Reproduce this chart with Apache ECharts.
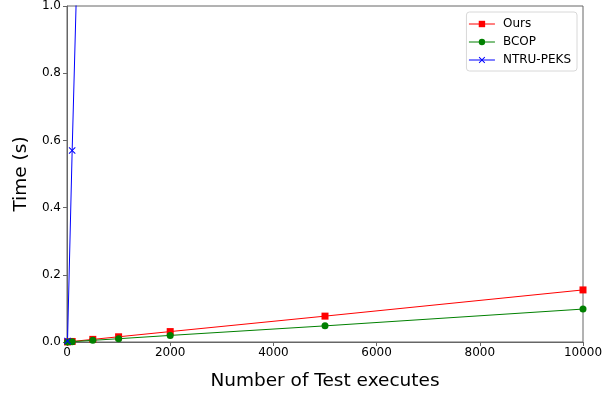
<!DOCTYPE html>
<html><head><meta charset="utf-8">
<script src="https://cdn.jsdelivr.net/npm/echarts@6/dist/echarts.min.js"></script>
<style>html,body{margin:0;padding:0;background:#fff}#c{width:609px;height:394px}</style>
</head><body><div id="c"></div>
<script>
const xs = [10, 100, 500, 1000, 2000, 5000, 10000];
const ours = [0.0002, 0.0016, 0.0078, 0.0155, 0.031, 0.077, 0.155];
const bcop = [0.0001, 0.001, 0.005, 0.0098, 0.0196, 0.048, 0.098];
const ntru = [0.003, 0.57, 2.85, 5.7, 11.4, 28.5, 57];
const seriesNames = ['Ours', 'BCOP', 'NTRU-PEKS'];
const xTicks = [0, 2000, 4000, 6000, 8000, 10000];
const yTicks = [0.0, 0.2, 0.4, 0.6, 0.8, 1.0];

const font = 'DejaVu Sans';
const xMark = 'path://M1,0L5,4L9,0L10,1L6,5L10,9L9,10L5,6L1,10L0,9L4,5L0,1Z';
const pair = arr => xs.map((x, i) => [x, arr[i]]);
const chart = echarts.init(document.getElementById('c'), null, {renderer: 'canvas'});
chart.setOption({
  animation: false,
  grid: {left: 67, right: 26, top: 6, bottom: 52, show: true, borderColor: '#666', borderWidth: 1,
         containLabel: false, outerBoundsMode: 'none'},
  legend: {
    orient: 'vertical', right: 32, top: 12,
    data: seriesNames,
    backgroundColor: '#fff', borderColor: '#d8d8d8', borderWidth: 1, borderRadius: 3,
    padding: [5, 6, 4, 2], itemWidth: 26, itemHeight: 8, itemGap: 4,
    lineStyle: {width: 1},
    textStyle: {fontFamily: font, fontSize: 12, color: '#000', padding: [0, 0, 0, 3], lineHeight: 14}
  },
  xAxis: {
    type: 'value', min: xTicks[0], max: xTicks[xTicks.length - 1], interval: 2000,
    name: 'Number of Test executes', nameLocation: 'middle', nameGap: 30,
    nameTextStyle: {fontFamily: font, fontSize: 18.5, color: '#000'},
    axisLine: {show: true, lineStyle: {color: '#666', width: 1}},
    axisTick: {show: true, length: 4, lineStyle: {color: '#666'}},
    axisLabel: {fontFamily: font, fontSize: 12, color: '#000', margin: 5, formatter: v => String(v)},
    splitLine: {show: false}
  },
  yAxis: {
    type: 'value', min: yTicks[0], max: yTicks[yTicks.length - 1], interval: 0.2,
    name: 'Time (s)', nameLocation: 'middle', nameGap: 35,
    nameTextStyle: {fontFamily: font, fontSize: 18.5, color: '#000'},
    axisLine: {show: true, lineStyle: {color: '#666', width: 1}},
    axisTick: {show: true, length: 4, lineStyle: {color: '#666'}},
    axisLabel: {fontFamily: font, fontSize: 12, color: '#000', margin: 6, formatter: v => v.toFixed(1)},
    splitLine: {show: false}
  },
  series: [
    {name: seriesNames[0], type: 'line', data: pair(ours), color: '#ff0000',
     symbol: 'rect', symbolSize: 7, showAllSymbol: true,
     lineStyle: {width: 1, color: '#ff0000'}, itemStyle: {color: '#ff0000'}},
    {name: seriesNames[1], type: 'line', data: pair(bcop), color: '#008000',
     symbol: 'circle', symbolSize: 7, showAllSymbol: true,
     lineStyle: {width: 1, color: '#008000'}, itemStyle: {color: '#008000'}},
    {name: seriesNames[2], type: 'line', data: pair(ntru), color: '#0000ff',
     symbol: xMark, symbolSize: 7, showAllSymbol: true,
     lineStyle: {width: 1, color: '#0000ff'}, itemStyle: {color: '#0000ff'}}
  ]
});
</script></body></html>
